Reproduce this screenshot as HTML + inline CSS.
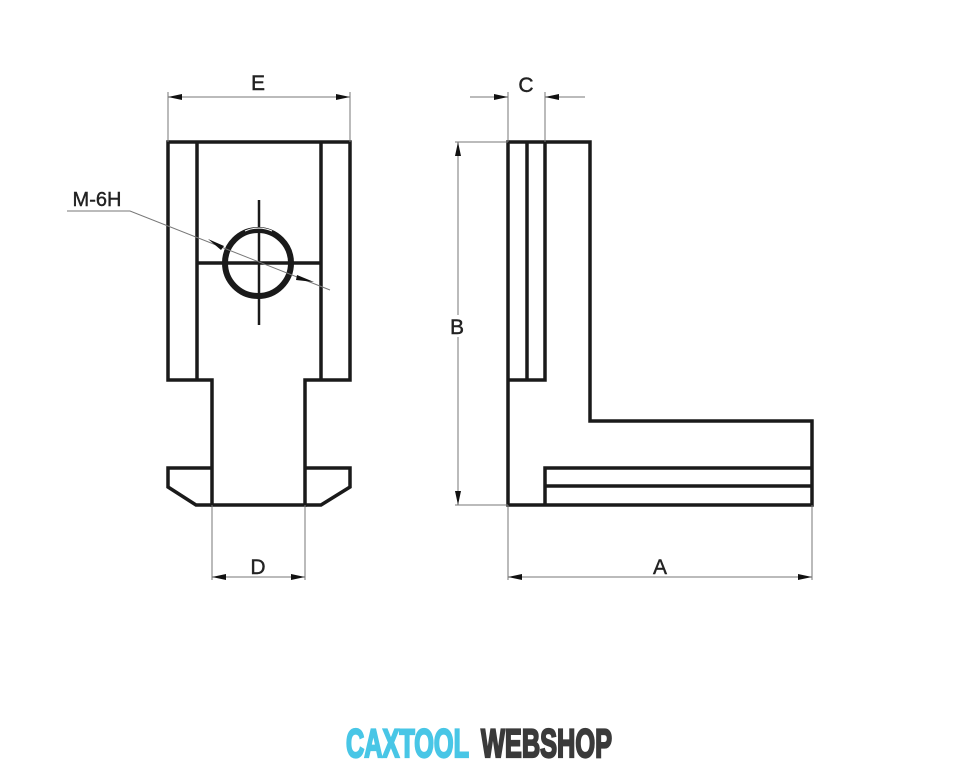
<!DOCTYPE html>
<html><head><meta charset="utf-8"><style>html,body{margin:0;padding:0;background:#fff}svg{display:block}</style></head>
<body>
<svg width="961" height="769" viewBox="0 0 961 769" xmlns="http://www.w3.org/2000/svg">
<defs>
<marker id="ar" viewBox="0 0 14 6" refX="14" refY="3" markerWidth="14" markerHeight="6" orient="auto-start-reverse" markerUnits="userSpaceOnUse"><path d="M0,0 L14,3 L0,6 Z" fill="#111"/></marker>
</defs>
<g fill="none" stroke="#1a1a1a" stroke-width="3.5" stroke-linejoin="miter">
<path d="M168,142 H350 V380 H305 V505 H212 V380 H168 Z"/>
<line x1="197" y1="142" x2="197" y2="380"/>
<line x1="321" y1="142" x2="321" y2="380"/>
<line x1="197" y1="263" x2="321" y2="263"/>
<path d="M212,468 H168 V487 L196,505 H212"/>
<path d="M305,468 H350 V487 L321,505 H305"/>
<line x1="259" y1="200" x2="259" y2="325" stroke-width="2.5"/>
<circle cx="258" cy="263" r="33" stroke-width="6"/>
<path d="M245,231 A33,33 0 0 1 272,231" stroke="#fff" stroke-width="1"/>
<path d="M508,142 H590 V421 H812 V505 H508 Z"/>
<line x1="527" y1="142" x2="527" y2="380"/>
<path d="M545,142 V380 H508"/>
<path d="M812,468 H545 V505"/>
<line x1="545" y1="486" x2="812" y2="486"/>
</g>
<g fill="none" stroke="#777" stroke-width="1">
<line x1="168" y1="92" x2="168" y2="142"/><line x1="350" y1="92" x2="350" y2="142"/>
<line x1="168" y1="97" x2="350" y2="97" marker-start="url(#ar)" marker-end="url(#ar)"/>
<line x1="212" y1="505" x2="212" y2="580"/><line x1="305" y1="505" x2="305" y2="580"/>
<line x1="212" y1="577" x2="305" y2="577" marker-start="url(#ar)" marker-end="url(#ar)"/>
<line x1="508" y1="92" x2="508" y2="142"/><line x1="545" y1="92" x2="545" y2="142"/>
<line x1="470" y1="97" x2="508" y2="97" marker-end="url(#ar)"/>
<line x1="585" y1="97" x2="545" y2="97" marker-end="url(#ar)"/>
<line x1="455" y1="142" x2="508" y2="142"/><line x1="455" y1="505" x2="508" y2="505"/>
<line x1="458" y1="142" x2="458" y2="505" marker-start="url(#ar)" marker-end="url(#ar)"/>
<line x1="508" y1="505" x2="508" y2="580"/><line x1="812" y1="505" x2="812" y2="580"/>
<line x1="508" y1="577" x2="812" y2="577" marker-start="url(#ar)" marker-end="url(#ar)"/>
<path d="M67,211 H130 L330,290"/>
</g>
<path d="M208,239 L224,246 L221,250 Z" fill="#111"/>
<path d="M314,282 L297,275 L296,280 Z" fill="#111"/>
<rect x="449" y="315" width="18" height="22" fill="#fff"/>
<g font-family="'Liberation Sans Narrow','Liberation Sans',sans-serif" font-size="21" fill="#222" text-anchor="middle" stroke="#222" stroke-width="0.4">
<text x="258" y="90">E</text>
<text x="258" y="574">D</text>
<text x="526" y="92">C</text>
<text x="457" y="334">B</text>
<text x="660" y="574">A</text>
<text x="97" y="206" font-size="20">M-6H</text>
</g>
<g font-family="'Liberation Sans Narrow','Liberation Sans',sans-serif" font-weight="bold" font-size="40" stroke-width="2.2">
<text x="346" y="757" fill="#48c6e6" stroke="#48c6e6" textLength="123" lengthAdjust="spacingAndGlyphs">CAXTOOL</text>
<text x="481" y="757" fill="#3a3a3a" stroke="#3a3a3a" textLength="131" lengthAdjust="spacingAndGlyphs">WEBSHOP</text>
</g>
</svg>
</body></html>
